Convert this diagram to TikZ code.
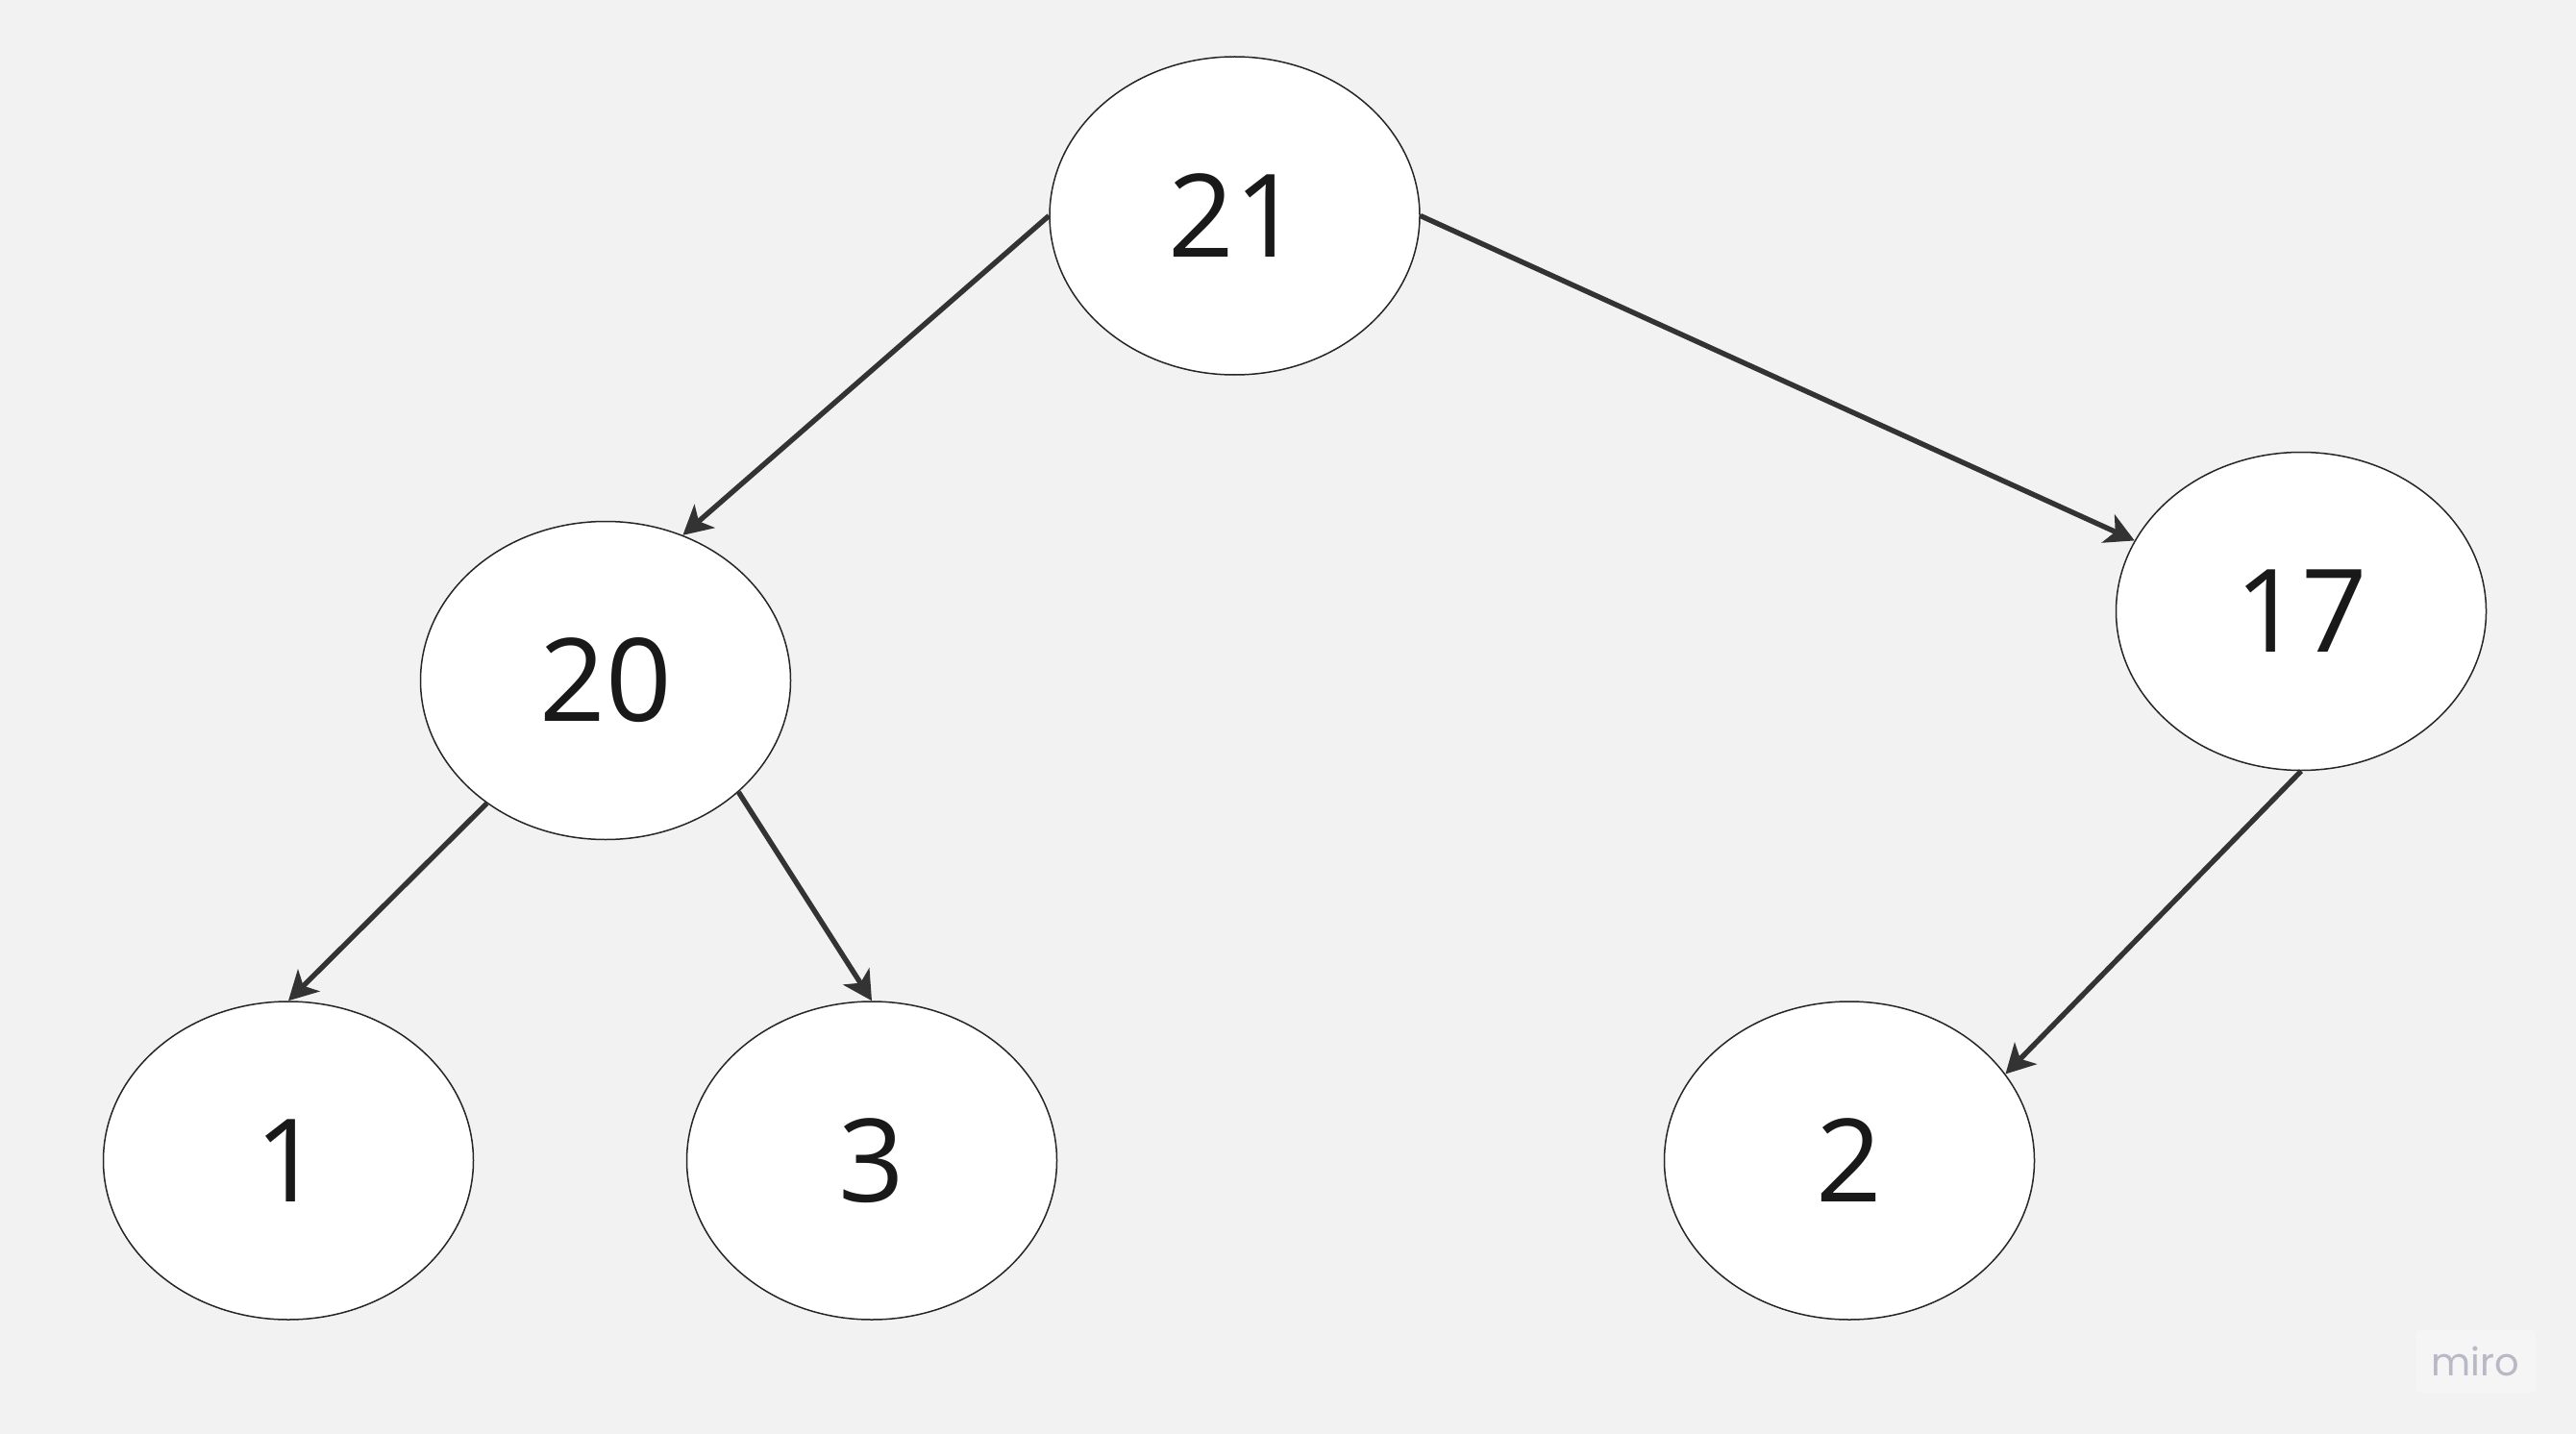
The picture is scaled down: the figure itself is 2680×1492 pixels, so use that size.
\documentclass[tikz,border=0pt]{standalone}
\usepackage{fontspec}
\setmainfont{Open Sans}
\newfontfamily\wmfont{Poppins}
\usetikzlibrary{shapes.geometric,arrows.meta}
\definecolor{bg}{HTML}{F2F2F2}
\definecolor{edge}{HTML}{333333}
\definecolor{wmtext}{HTML}{B8B8C6}
\definecolor{wmbox}{HTML}{F5F5F5}
\tikzset{
  heapnode/.style={ellipse,draw=black!85,line width=0.75pt,fill=white,
    minimum width=192.5pt,minimum height=165.5pt,inner sep=0pt,
    font=\fontsize{60}{72}\selectfont,text=black!90},
  heaparrow/.style={draw=edge,line width=2.7pt,
    -{Stealth[length=15pt,width=16pt,inset=4pt]}}
}
\begin{document}
\begin{tikzpicture}[x=0.5pt,y=-0.5pt]
\fill[bg] (0,0) rectangle (2680,1492);
\useasboundingbox (0,0) rectangle (2680,1492);
\node[heapnode] (n21) at (1284.5,224.5) {21};
\node[heapnode] (n20) at (630,708) {20};
\node[heapnode] (n17) at (2394,636) {17};
\node[heapnode] (n1) at (300,1207.5) {1};
\node[heapnode] (n3) at (907,1207.5) {3};
\node[heapnode] (n2) at (1924,1207.5) {2};
\draw[heaparrow] (n21.west) -- (n20.62);
\draw[heaparrow] (n21.east) -- (n17.157);
\draw[heaparrow] (n20.226) -- (n1.north);
\draw[heaparrow] (n20.320) -- (n3.north);
\draw[heaparrow] (n17.south) -- (n2.29);
\node[fill=wmbox,rounded corners=3pt,minimum width=62pt,minimum height=33pt,
  inner sep=0pt,text=wmtext,font=\wmfont\fontsize{20}{24}\selectfont]
  (wm) at (2575.5,1416.5) {miro};
\end{tikzpicture}
\end{document}
